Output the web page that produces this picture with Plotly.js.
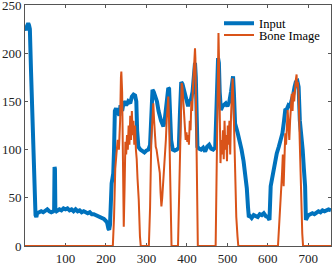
<!DOCTYPE html>
<html>
<head>
<meta charset="utf-8">
<script src="https://cdn.plot.ly/plotly-3.0.1.min.js"></script>
<style>html,body{margin:0;padding:0;background:#fff;}#chart{width:332px;height:264px;}</style>
</head>
<body>
<div id="chart"></div>
<script>
// Input signal (blue)
var inputX = [0,3,5,8,10,12,15,18,20,22,24,26,28,30,35,40,45,50,55,60,65,70,72,73,74,75,78,85,90,95,100,105,110,115,120,125,130,135,140,145,150,155,160,165,170,175,180,185,190,195,200,203,206,208,210,212,214,216,218,220,222,225,228,230,233,236,240,244,247,250,255,260,264,268,272,275,277,280,285,290,295,300,305,309,312,315,318,322,326,330,333,336,340,342,345,348,351,354,356,358,361,365,370,375,380,383,386,389,392,396,400,403,406,410,414,418,420,422,424,426,430,435,440,445,450,455,460,465,470,474,477,479,481,484,488,492,496,500,505,509,512,514,516,519,525,530,535,540,544,548,551,553,556,560,565,570,575,580,585,590,595,600,604,607,612,617,622,627,632,636,640,643,647,651,655,659,663,666,669,673,676,679,682,686,689,692,694,697,700,705,710,715,720,725,730,735,740,745,750,756];
var inputY = [226,224,228,231,229,225,180,130,100,70,45,32,30,34,35,36,35,37,38,36,35,36,37,82,80,38,36,38,37,39,38,39,37,38,36,38,36,37,35,36,35,34,35,33,33,32,31,31,29,28,26,24,18,17,22,50,65,70,75,100,140,143,138,140,135,146,140,150,148,146,150,148,155,157,156,150,120,103,100,98,97,99,100,105,150,162,160,155,150,140,134,130,126,124,130,140,155,164,163,140,110,100,99,100,102,140,170,168,162,155,148,145,150,152,160,185,190,175,120,103,101,100,102,98,103,105,101,100,102,150,195,190,160,141,145,146,148,145,150,160,175,176,160,127,118,110,100,88,75,60,40,30,31,29,32,31,30,33,32,34,31,30,27,62,75,88,96,103,110,117,130,141,142,146,145,150,158,165,170,171,165,130,118,100,80,62,27,30,32,33,34,33,35,36,35,37,36,37,38,37];
// Bone image (orange)
var boneX = [0,217,220,223,226,229,232,235,237,238,240,242,244,246,248,250,252,254,256,258,260,262,264,266,268,270,272,274,276,278,281,284,286,306,309,312,315,317,319,321,323,325,328,331,333,335,337,339,342,344,346,348,350,352,354,356,358,360,362,378,381,384,387,389,391,393,395,397,399,401,403,405,407,409,411,413,415,417,419,420,421,423,425,427,471,473,475,477,478,479,481,483,485,487,489,491,493,495,497,499,501,503,505,507,509,511,513,515,517,519,522,525,527,625,628,631,635,637,639,641,643,645,647,649,651,653,655,657,659,661,663,665,667,669,671,672,674,676,678,680,682,685,687,756];
var boneY = [0,0,30,80,96,110,100,130,175,181,160,80,20,60,108,95,115,100,125,105,135,110,140,115,130,105,125,100,90,70,48,10,0,0,40,110,140,148,130,110,103,100,90,80,76,55,41,50,70,84,90,110,130,145,155,130,80,30,0,0,60,130,169,165,150,145,120,110,118,108,115,105,130,120,150,140,165,185,200,205,195,140,50,0,0,60,150,210,221,200,140,86,110,95,120,90,130,100,115,88,125,105,130,95,135,160,174,150,110,55,30,10,0,0,20,50,75,95,62,90,117,105,130,141,125,110,130,145,158,140,160,150,165,172,178,165,170,158,120,82,50,13,0,0];
var traceNames = ["Input", "Bone Image"];
var xTicks = [100,200,300,400,500,600,700];
var yTicks = [0,50,100,150,200,250];

var serif = "Liberation Serif";
var data = [
  {x: inputX, y: inputY, type: 'scatter', mode: 'lines', name: traceNames[0],
   line: {color: '#0072BD', width: 4}, legend: 'legend'},
  {x: boneX, y: boneY, type: 'scatter', mode: 'lines', name: traceNames[1],
   line: {color: '#D95319', width: 2}, legend: 'legend2'}
];
var axisCommon = {
  showgrid: false, zeroline: false, showline: true, mirror: 'ticks',
  linecolor: '#555', linewidth: 1, ticks: 'inside', ticklen: 3, tickwidth: 1,
  tickcolor: '#555', tickfont: {family: serif, size: 13, color: '#222'},
  layer: 'below traces', tickmode: 'array', ticklabeloverflow: 'allow'
};
var layout = {
  width: 332, height: 264,
  margin: {l: 25, r: 1, t: 5, b: 18, pad: 0},
  paper_bgcolor: '#fff', plot_bgcolor: '#fff',
  xaxis: Object.assign({}, axisCommon, {range: [0, 756], tickvals: xTicks, ticktext: xTicks.map(String)}),
  yaxis: Object.assign({}, axisCommon, {range: [0, 250], tickvals: yTicks, ticktext: yTicks.map(String)}),
  legend: {x: 0.634, y: 0.985, xanchor: 'left', yanchor: 'top', bgcolor: 'rgba(0,0,0,0)',
           borderwidth: 0, font: {family: serif, size: 12.5, color: '#000'}},
  legend2: {x: 0.634, y: 0.936, xanchor: 'left', yanchor: 'top', bgcolor: 'rgba(0,0,0,0)',
           borderwidth: 0, font: {family: serif, size: 12.5, color: '#000'}},
  showlegend: true
};
Plotly.newPlot('chart', data, layout, {displayModeBar: false, staticPlot: true});
</script>
</body>
</html>
